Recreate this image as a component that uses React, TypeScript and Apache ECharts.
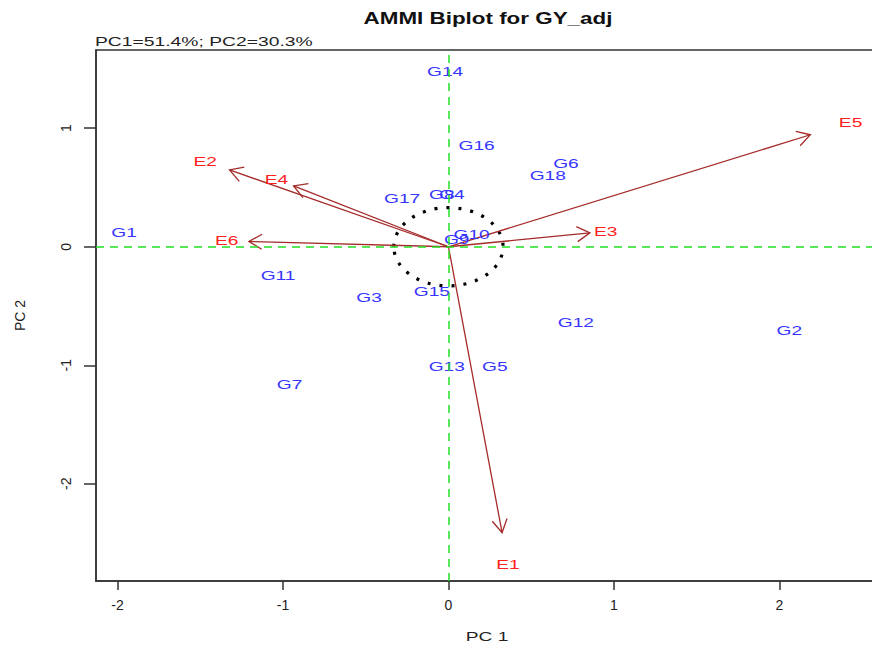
import React, { useEffect, useRef } from "react";
import * as echarts from "echarts";

const genoNames = ["G1","G2","G3","G4","G5","G6","G7","G8","G9","G10","G11","G12","G13","G14","G15","G16","G17","G18"];
const genoPC1 = [-1.96, 2.06, -0.48, 0.02, 0.28, 0.71, -0.96, -0.04, 0.05, 0.14, -1.03, 0.77, -0.01, -0.02, -0.10, 0.17, -0.28, 0.60];
const genoPC2 = [0.12, -0.71, -0.43, 0.44, -1.01, 0.70, -1.16, 0.44, 0.06, 0.10, -0.24, -0.64, -1.01, 1.48, -0.38, 0.85, 0.41, 0.60];

const envNames = ["E1","E2","E3","E4","E5","E6"];
const envPC1 = [0.36, -1.47, 0.95, -1.04, 2.43, -1.34];
const envPC2 = [-2.68, 0.72, 0.13, 0.57, 1.05, 0.05];

const xTicks = [-2, -1, 0, 1, 2];
const yTicks = [-2, -1, 0, 1];
const circleRadius = 0.33;
const arrowScale = 0.9;

const FONT = "Liberation Sans, Arial, sans-serif";
const STRETCH = 1.42;

export default function App() {
  const ref = useRef<HTMLDivElement>(null);
  useEffect(() => {
    if (!ref.current) return;
    const chart = echarts.init(ref.current, null, { renderer: "svg" });
    const labelItem = (name: string, color: string, api: any) => {
      const p = api.coord([api.value(0), api.value(1)]);
      return {
        type: "text",
        x: p[0],
        y: p[1],
        scaleX: STRETCH,
        style: {
          text: name,
          fill: color,
          fontSize: 13.5,
          fontFamily: FONT,
          align: "center",
          verticalAlign: "middle",
        },
      };
    };
    const option: any = {
      animation: false,
      backgroundColor: "#ffffff",
      graphic: [
        {
          type: "text",
          x: 488,
          y: 18,
          scaleX: 1.4,
          style: {
            text: "AMMI Biplot for GY_adj",
            fontFamily: FONT,
            fontSize: 16,
            fontWeight: "bold",
            fill: "#111",
            align: "center",
            verticalAlign: "middle",
          },
        },
        {
          type: "text",
          x: 95,
          y: 42,
          scaleX: 1.43,
          style: {
            text: "PC1=51.4%; PC2=30.3%",
            fontFamily: FONT,
            fontSize: 13.5,
            fill: "#222",
            align: "left",
            verticalAlign: "middle",
          },
        },
        {
          type: "text",
          x: 487,
          y: 637,
          scaleX: 1.42,
          style: {
            text: "PC 1",
            fontFamily: FONT,
            fontSize: 13.5,
            fill: "#222",
            align: "center",
            verticalAlign: "middle",
          },
        },
      ],
      grid: {
        left: 96,
        right: -10,
        top: 50,
        bottom: 67,
        outerBoundsMode: "none",
        containLabel: false,
        show: true,
        borderColor: "#333",
        borderWidth: 1.5,
        backgroundColor: "transparent",
      },
      xAxis: {
        type: "value",
        min: -2.13,
        max: 2.62,
        splitLine: { show: false },
        axisLine: { show: true, onZero: false, lineStyle: { color: "#333", width: 1.5 } },
        axisTick: { show: true, length: 9, customValues: xTicks, lineStyle: { color: "#333", width: 1.5 } },
        axisLabel: { customValues: xTicks, margin: 17, fontFamily: FONT, fontSize: 14, color: "#222" },
      },
      yAxis: {
        type: "value",
        min: -2.82,
        max: 1.66,
        name: "PC 2",
        nameLocation: "middle",
        nameGap: 69,
        nameTextStyle: { fontFamily: FONT, fontSize: 14, color: "#222" },
        splitLine: { show: false },
        axisLine: { show: true, onZero: false, lineStyle: { color: "#333", width: 1.5 } },
        axisTick: { show: true, length: 12, customValues: yTicks, lineStyle: { color: "#333", width: 1.5 } },
        axisLabel: { customValues: yTicks, margin: 23, rotate: 90, fontFamily: FONT, fontSize: 14, color: "#222" },
      },
      series: [
        {
          type: "line",
          data: [],
          markLine: {
            silent: true,
            symbol: "none",
            label: { show: false },
            lineStyle: { color: "#22e022", type: [8, 6], width: 1.5 },
            data: [{ xAxis: 0 }, { yAxis: 0 }],
          },
        },
        {
          type: "custom",
          coordinateSystem: "cartesian2d",
          data: [[0, 0]],
          renderItem: (params: any, api: any) => {
            const c = api.coord([0, 0]);
            const rx = api.coord([circleRadius, 0])[0] - c[0];
            const ry = c[1] - api.coord([0, circleRadius])[1];
            return {
              type: "ellipse",
              shape: { cx: c[0], cy: c[1], rx, ry },
              style: { fill: "none", stroke: "#000", lineWidth: 3.2, lineDash: [3, 9] },
            };
          },
        },
        {
          type: "custom",
          coordinateSystem: "cartesian2d",
          data: envNames.map((n, i) => [envPC1[i], envPC2[i]]),
          renderItem: (params: any, api: any) => {
            const o = api.coord([0, 0]);
            const t = api.coord([api.value(0) * arrowScale, api.value(1) * arrowScale]);
            const ang = Math.atan2(t[1] - o[1], t[0] - o[0]);
            const hl = 15;
            const ha = Math.PI / 6;
            const p1 = [t[0] - hl * Math.cos(ang - ha), t[1] - hl * Math.sin(ang - ha)];
            const p2 = [t[0] - hl * Math.cos(ang + ha), t[1] - hl * Math.sin(ang + ha)];
            const stroke = "#a52a2a";
            return {
              type: "group",
              children: [
                { type: "polyline", shape: { points: [o, t] }, style: { stroke, lineWidth: 1.3, fill: "none" } },
                { type: "polyline", shape: { points: [p1, t, p2] }, style: { stroke, lineWidth: 1.3, fill: "none" } },
              ],
            };
          },
        },
        {
          type: "custom",
          coordinateSystem: "cartesian2d",
          data: envNames.map((n, i) => [envPC1[i], envPC2[i]]),
          renderItem: (params: any, api: any) => labelItem(envNames[params.dataIndex], "#ff2020", api),
        },
        {
          type: "custom",
          coordinateSystem: "cartesian2d",
          data: genoNames.map((n, i) => [genoPC1[i], genoPC2[i]]),
          renderItem: (params: any, api: any) => labelItem(genoNames[params.dataIndex], "#3535ff", api),
        },
      ],
    };
    chart.setOption(option);
    return () => chart.dispose();
  }, []);
  return <div ref={ref} style={{ width: 872, height: 648, position: "absolute", left: 0, top: 0 }} />;
}
